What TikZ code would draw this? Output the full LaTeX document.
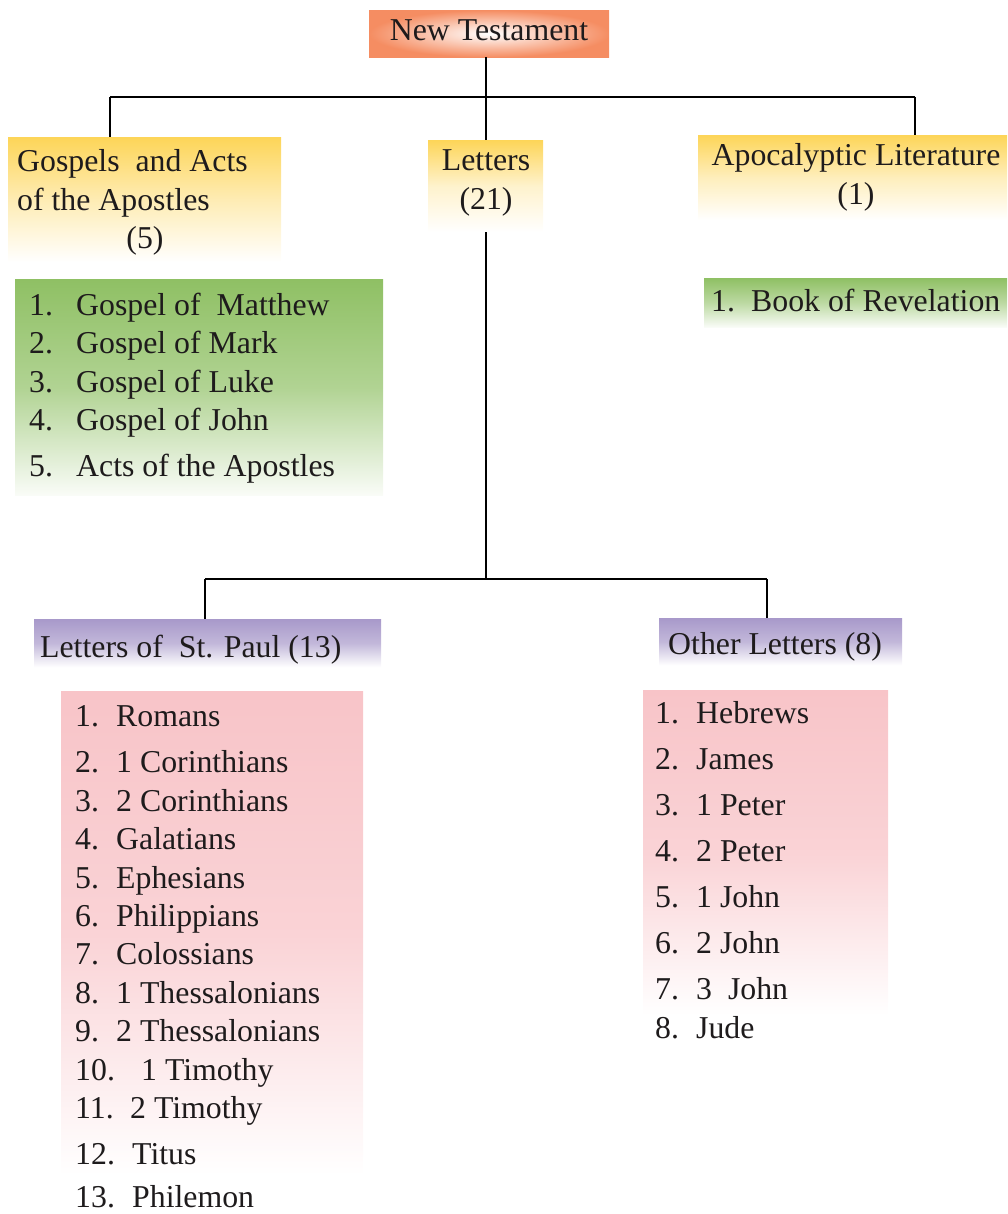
\documentclass[tikz,border=0pt]{standalone}
\usepackage{fontspec}
\setmainfont{Liberation Serif}
\newfontfamily\bookfont{Liberation Serif}
\usepackage{tikz}
\usetikzlibrary{positioning}
\usepackage{xcolor}

\definecolor{ink}{RGB}{30,27,28}
\definecolor{ntorange}{RGB}{245,141,98}
\definecolor{headyellow}{RGB}{253,213,88}
\definecolor{listgreen}{RGB}{143,192,100}
\definecolor{headpurple}{RGB}{168,153,202}
\definecolor{listpink}{RGB}{248,196,200}

\begin{document}
\begin{tikzpicture}[x=1pt, y=-1pt,
		every node/.style={font=\bookfont\fontsize{31.8}{38}\selectfont, text=ink, inner sep=0pt},
		box/.style={anchor=north west, minimum width=#1},
		txt/.style={anchor=base west},
		ctxt/.style={anchor=base},
		conn/.style={line width=2pt, black}]
		\useasboundingbox (0,0) rectangle (1007,1214);

		% Boxes
		\node[box=240pt, minimum height=47pt, shading=radial, inner color=white, outer color=ntorange] (nt) at (369,10) {};
		\node[box=273pt, minimum height=125pt, top color=headyellow, bottom color=white, middle color=headyellow!45!white] (gospels) at (8,137) {};
		\node[box=115pt, minimum height=92pt, top color=headyellow, bottom color=white, middle color=headyellow!30!white] (letters) at (428,140) {};
		\node[box=309pt, minimum height=85pt, top color=headyellow, bottom color=white, middle color=headyellow!40!white] (apoc) at (698,135) {};
		\node[box=368pt, minimum height=216pt, top color=listgreen, bottom color=listgreen!5!white, middle color=listgreen!70!white] (gospellist) at (15,279) {};
		\node[box=303pt, minimum height=49pt, top color=listgreen, bottom color=listgreen!5!white, middle color=listgreen!60!white] (revlist) at (704,278) {};
		\node[box=347pt, minimum height=48pt, top color=headpurple, bottom color=white, middle color=headpurple!70!white] (paul) at (34,619) {};
		\node[box=243pt, minimum height=47pt, top color=headpurple, bottom color=white, middle color=headpurple!70!white] (other) at (659,618) {};
		\node[box=302pt, minimum height=484pt, top color=listpink, bottom color=white, middle color=listpink!75!white] (paullist) at (61,691) {};
		\node[box=245pt, minimum height=325pt, top color=listpink, bottom color=white, middle color=listpink!75!white] (otherlist) at (643,690) {};

		% Headings
		\node[ctxt] (ntlabel) at (489,41) {New Testament};
		\node[txt] (gos1) at (17,172) {Gospels\ \ and Acts};
		\node[txt] (gos2) at (17,211) {of the Apostles};
		\node[ctxt] (gos3) at (145,249) {(5)};
		\node[ctxt] (let1) at (486,171) {Letters};
		\node[ctxt] (let2) at (486,210) {(21)};
		\node[ctxt] (apo1) at (856,166) {Apocalyptic Literature};
		\node[ctxt] (apo2) at (856,205) {(1)};
		\node[txt] (paulhead) at (40,657) {Letters of\ \ St. Paul (13)};
		\node[txt] (otherhead) at (668,654) {Other Letters (8)};

		% Gospels and Acts
		\foreach \n/\t/\y in {1/Gospel of\ \ Matthew/315, 2/Gospel of Mark/353, 3/Gospel of Luke/392,
			4/Gospel of John/430, 5/Acts of the Apostles/476} {
			\node[txt] (gn\n) at (29,\y) {\n.};
			\node[txt] (g\n) at (76,\y) {\t};
		}

		% Revelation
		\node[txt] (rn1) at (711,311) {1.};
		\node[txt] (r1) at (751,311) {Book of Revelation};

		% Letters of St. Paul
		\foreach \n/\x/\t/\y in {1/116/Romans/726, 2/116/1 Corinthians/772, 3/116/2 Corinthians/811,
			4/116/Galatians/849, 5/116/Ephesians/888, 6/116/Philippians/926,
			7/116/Colossians/964, 8/116/1 Thessalonians/1003, 9/116/2 Thessalonians/1041,
			10/141/1 Timothy/1080, 11/130/2 Timothy/1118, 12/132/Titus/1164, 13/132/Philemon/1207} {
			\node[txt] (pn\n) at (75,\y) {\n.};
			\node[txt] (p\n) at (\x,\y) {\t};
		}

		% Other letters
		\foreach \n/\t/\y in {1/Hebrews/723, 2/James/769, 3/1 Peter/815, 4/2 Peter/861,
			5/1 John/907, 6/2 John/953, 7/3\ \ John/999, 8/Jude/1038} {
			\node[txt] (on\n) at (655,\y) {\n.};
			\node[txt] (o\n) at (696,\y) {\t};
		}

		% Connectors
		\coordinate (barL) at (110,97);
		\coordinate (barM) at (486,97);
		\coordinate (barR) at (915,97);
		\coordinate (splitL) at (205,579);
		\coordinate (splitM) at (486,579);
		\coordinate (splitR) at (767,579);
		\draw[conn] (nt.south -| barM) -- (letters.north -| barM);
		\draw[conn] (barL) -- (barR);
		\draw[conn] (barL) -- (barL |- gospels.north);
		\draw[conn] (barR) -- (barR |- apoc.north);
		\draw[conn] (letters.south -| splitM) -- (splitM);
		\draw[conn] (splitL) -- (splitR);
		\draw[conn] (splitL) -- (splitL |- paul.north);
		\draw[conn] (splitR) -- (splitR |- other.north);
	\end{tikzpicture}
\end{document}
